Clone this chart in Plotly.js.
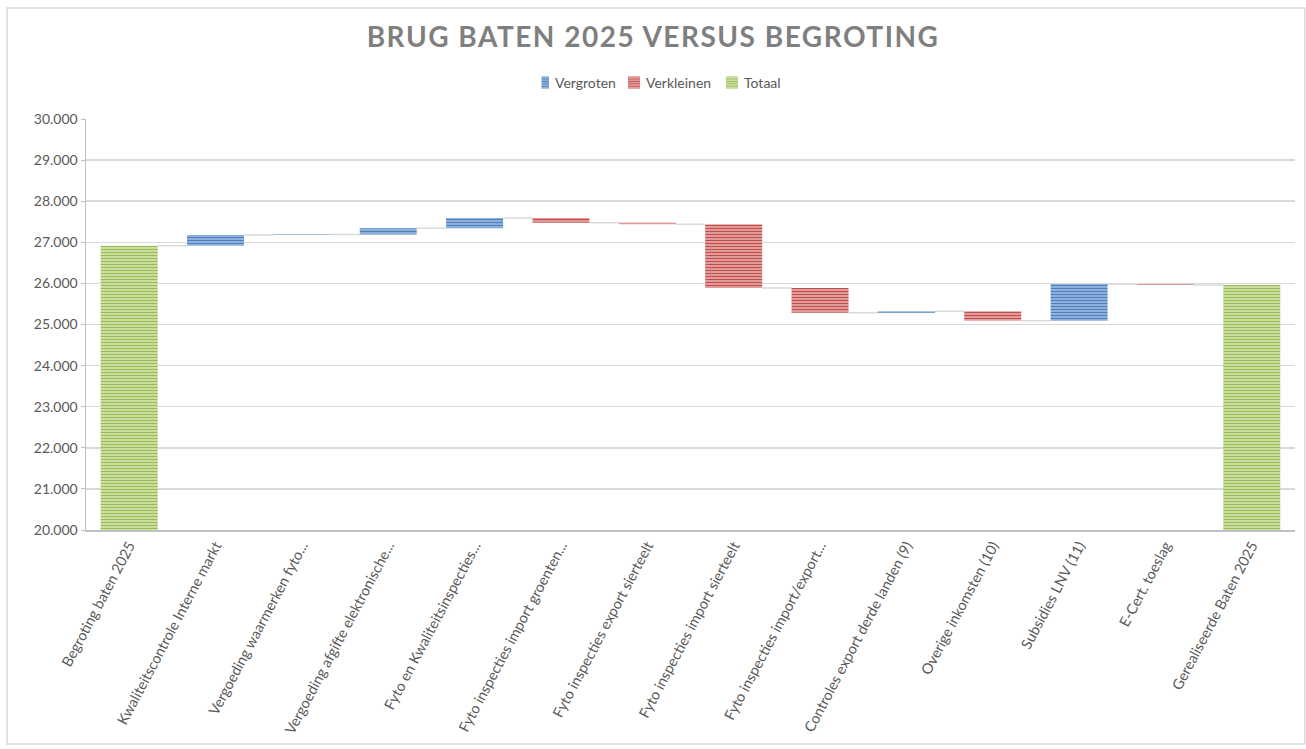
<!DOCTYPE html>
<html>
<head>
<meta charset="utf-8">
<script src="https://cdn.plot.ly/plotly-3.0.1.min.js"></script>
<style>
html,body{margin:0;padding:0;background:#fff;}
#chart{width:1306px;height:749px;}
</style>
</head>
<body>
<div id="chart"></div>
<script>
// Categories (x labels)
const categories = [
  "Begroting baten 2025",
  "Kwaliteitscontrole Interne markt",
  "Vergoeding waarmerken fyto...",
  "Vergoeding afgifte elektronische...",
  "Fyto en Kwaliteitsinspecties...",
  "Fyto inspecties import groenten...",
  "Fyto inspecties export sierteelt",
  "Fyto inspecties import sierteelt",
  "Fyto inspecties import/export...",
  "Controles export derde landen (9)",
  "Overige inkomsten (10)",
  "Subsidies LNV (11)",
  "E-Cert. toeslag",
  "Gerealiseerde Baten 2025"
];
// measure: "absolute" start, "relative" change, "total" end
const measures = ["absolute","relative","relative","relative","relative","relative","relative","relative","relative","relative","relative","relative","relative","total"];
// values (start and relative changes, thousands)
const values = [26917, 261, 12, 151, 250, -114, -39, -1550, -601, 34, -229, 893, -24, 0];

const seriesNames = ["Vergroten","Verkleinen","Totaal"];
const yTickVals = [20000,21000,22000,23000,24000,25000,26000,27000,28000,29000,30000];

// build waterfall bases from data
const incY=[], incB=[], decY=[], decB=[], totY=[], totB=[];
const levels=[];
let cum = 0;
for (let i=0;i<categories.length;i++){
  let m = measures[i];
  incY.push(null); incB.push(null); decY.push(null); decB.push(null); totY.push(null); totB.push(null);
  if (m==="absolute"){ cum = values[i]; totY[i]=cum; totB[i]=0; }
  else if (m==="total"){ totY[i]=cum; totB[i]=0; }
  else {
    const v = values[i];
    if (v>=0){ incY[i]=v; incB[i]=cum; } else { decY[i]=-v; decB[i]=cum+v; }
    cum += v;
  }
  levels.push(cum);
}

const pat = (bg, fg) => ({shape:"-", bgcolor:bg, fgcolor:fg, size:3, solidity:0.4});
const traces = [
  {type:"bar", name:seriesNames[0], x:categories, y:incY, base:incB, width:0.66,
   marker:{color:"#5b8ccb", pattern:pat("#93b4df","#4f81bd"), line:{width:0}}, hoverinfo:"skip"},
  {type:"bar", name:seriesNames[1], x:categories, y:decY, base:decB, width:0.66,
   marker:{color:"#c9605d", pattern:pat("#e5a3a1","#c0504d"), line:{width:0}}, hoverinfo:"skip"},
  {type:"bar", name:seriesNames[2], x:categories, y:totY, base:totB, width:0.66,
   marker:{color:"#a9c56a", pattern:pat("#cfe2a6","#9bbb59"), line:{width:0}}, hoverinfo:"skip"}
];

const shapes = [];
for (let i=0;i<categories.length-1;i++){
  shapes.push({type:"line", xref:"x", yref:"y", x0:i+0.33, x1:i+1-0.33, y0:levels[i], y1:levels[i],
    line:{color:"#d9d9d9", width:1.5}, layer:"below"});
}
shapes.push({type:"rect", xref:"paper", yref:"paper", x0:-79/1209, x1:1.0081, y0:-(749-530-5)/411, y1:1+(119-8)/411,
  line:{color:"#d9d9d9", width:1.5}, fillcolor:"rgba(0,0,0,0)"});

const layout = {
  width:1306, height:749,
  margin:{l:86, r:11, t:119, b:219},
  paper_bgcolor:"#fff", plot_bgcolor:"#fff",
  font:{family:"Lato, 'Open Sans', sans-serif", color:"#595959", size:14},
  separators:",.",
  title:{text:"BRUG BATEN 2025 VERSUS BEGROTING", x:0.5, xanchor:"center", yref:"container", y:0.951, yanchor:"middle",
    font:{family:"Lato, 'Open Sans', sans-serif", size:28, weight:700, color:"#7f7f7f"}},
  showlegend:true,
  legend:{orientation:"h", x:0.5, xanchor:"center", y:1.0876, yanchor:"middle",
    font:{size:14, color:"#595959"}, itemwidth:30, traceorder:"normal"},
  barmode:"overlay",
  xaxis:{type:"category", tickangle:-62, showgrid:false, showline:true, linecolor:"#bfbfbf", linewidth:1.5,
    ticks:"", tickfont:{size:14.5, color:"#595959"}, fixedrange:true},
  yaxis:{range:[20000,30000], tickvals:yTickVals, tickformat:",d", showgrid:true, gridcolor:"#d9d9d9", gridwidth:1.5,
    showline:true, linecolor:"#bfbfbf", linewidth:1.5, ticks:"outside", ticklen:4, tickcolor:"#bfbfbf",
    tickfont:{size:14, color:"#595959"}, zeroline:false, fixedrange:true},
  shapes:shapes
};

Plotly.newPlot("chart", traces, layout, {displayModeBar:false, staticPlot:true}).then(function(){
  const t = document.querySelector(".gtitle");
  if (t) t.style.letterSpacing = "1.5px";
  // tighten legend: symbol starts at given x, text 6px after symbol
  const items = document.querySelectorAll(".legend .traces");
  const desiredStarts = [537, 628, 726];
  if (items.length === 3) {
    items.forEach(function(it, k){
      const sym = it.querySelector(".legendpoints path") || it.querySelector(".legendpoints");
      const txt = it.querySelector("text.legendtext");
      const tf = it.getAttribute("transform") || "";
      const m = /translate\(([-\d.]+),\s*([-\d.]+)\)/.exec(tf);
      const curX = m ? parseFloat(m[1]) : 0;
      const ty = m ? parseFloat(m[2]) : 0;
      if (!sym) return;
      const sb = sym.getBoundingClientRect();
      const shift = desiredStarts[k] - sb.left;
      it.setAttribute("transform", "translate(" + (curX + shift) + "," + ty + ")");
      if (txt) {
        const sb2 = sym.getBoundingClientRect();
        const tb = txt.getBoundingClientRect();
        const dx = (sb2.right + 6) - tb.left;
        txt.setAttribute("x", parseFloat(txt.getAttribute("x") || 0) + dx);
      }
    });
  }
});
</script>
</body>
</html>
